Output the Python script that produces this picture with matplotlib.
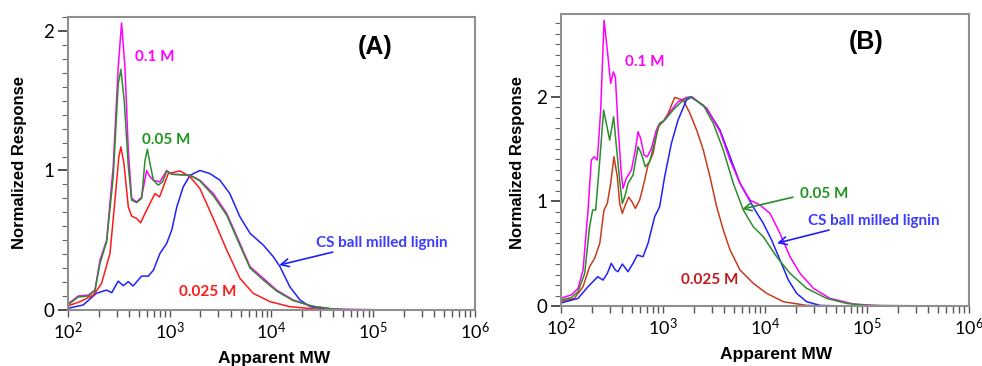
import matplotlib
matplotlib.use("Agg")
import matplotlib.pyplot as plt
from matplotlib.ticker import FixedLocator, MultipleLocator, FuncFormatter, LogLocator, NullFormatter
import numpy as np

plt.rcParams["mathtext.fontset"] = "custom"
plt.rcParams["mathtext.rm"] = "Lato"

# ---------------- panel A data (log10 apparent MW, normalized response) ----------------
a_01_logmw = [2.0, 2.10, 2.20, 2.265, 2.315, 2.38, 2.445, 2.494, 2.527, 2.56, 2.593, 2.626,
              2.675, 2.724, 2.773, 2.806, 2.84, 2.904, 2.97, 3.02, 3.10, 3.20, 3.297, 3.428,
              3.56, 3.69, 3.79, 3.92, 4.05, 4.214, 4.38, 4.607, 5.17]
a_01_resp = [0.043, 0.10, 0.107, 0.143, 0.358, 0.50, 1.03, 1.74, 2.057, 1.74, 1.145, 0.80,
             0.775, 0.81, 1.0, 0.955, 0.93, 0.918, 1.0, 0.973, 0.97, 0.966, 0.93, 0.835,
             0.692, 0.477, 0.31, 0.227, 0.143, 0.072, 0.029, 0.007, 0.0]

a_005_logmw = [2.0, 2.10, 2.20, 2.265, 2.315, 2.38, 2.445, 2.494, 2.52, 2.553, 2.593, 2.626,
               2.675, 2.724, 2.757, 2.78, 2.806, 2.84, 2.887, 2.93, 2.97, 3.02, 3.20, 3.297,
               3.428, 3.56, 3.69, 3.79, 3.92, 4.05, 4.214, 4.42, 4.607, 4.8]
a_005_resp = [0.036, 0.093, 0.10, 0.138, 0.335, 0.49, 0.955, 1.62, 1.725, 1.50, 1.03, 0.787,
              0.77, 0.80, 1.07, 1.152, 1.05, 0.93, 0.895, 0.918, 0.995, 0.973, 0.966, 0.925,
              0.82, 0.68, 0.463, 0.30, 0.215, 0.136, 0.067, 0.025, 0.007, 0.0]

a_0025_logmw = [2.0, 2.118, 2.25, 2.33, 2.413, 2.462, 2.50, 2.52, 2.55, 2.593, 2.626, 2.675,
                2.714, 2.757, 2.806, 2.855, 2.9, 2.937, 2.986, 3.10, 3.2, 3.297, 3.428, 3.56,
                3.69, 3.82, 3.985, 4.18, 4.46, 4.8]
a_0025_resp = [0.029, 0.06, 0.107, 0.19, 0.405, 0.787, 1.097, 1.169, 1.05, 0.74, 0.673, 0.656,
               0.625, 0.692, 0.764, 0.835, 0.81, 0.883, 0.978, 0.997, 0.955, 0.87, 0.656, 0.43,
               0.227, 0.12, 0.06, 0.024, 0.005, 0.0]

a_cs_logmw = [2.0, 2.15, 2.28, 2.38, 2.43, 2.494, 2.543, 2.593, 2.64, 2.69, 2.724, 2.79, 2.84,
              2.904, 2.97, 3.02, 3.07, 3.133, 3.2, 3.297, 3.395, 3.494, 3.59, 3.69, 3.79, 3.92,
              4.018, 4.084, 4.18, 4.28, 4.38, 4.54, 4.8]
a_cs_resp = [0.012, 0.036, 0.12, 0.143, 0.124, 0.207, 0.174, 0.203, 0.172, 0.215, 0.243, 0.243,
             0.286, 0.405, 0.477, 0.573, 0.74, 0.883, 0.966, 1.0, 0.978, 0.93, 0.835, 0.668,
             0.549, 0.465, 0.382, 0.31, 0.167, 0.072, 0.024, 0.005, 0.0]

# ---------------- panel B data ----------------
b_01_logmw = [1.99, 2.10, 2.167, 2.216, 2.265, 2.297, 2.324, 2.356, 2.389, 2.422, 2.454, 2.487,
              2.513, 2.533, 2.559, 2.591, 2.608, 2.64, 2.69, 2.729, 2.755, 2.781, 2.814, 2.846,
              2.886, 2.934, 2.967, 3.016, 3.082, 3.147, 3.229, 3.281, 3.428, 3.559, 3.657,
              3.755, 3.853, 3.951, 4.049, 4.147, 4.245, 4.343, 4.474, 4.637, 4.866, 5.127, 5.65]
b_01_resp = [0.073, 0.105, 0.169, 0.344, 0.917, 1.394, 1.426, 1.394, 1.872, 2.73, 2.445, 2.127,
             2.238, 2.19, 1.713, 1.267, 1.124, 1.22, 1.30, 1.49, 1.665, 1.60, 1.442, 1.426,
             1.506, 1.68, 1.745, 1.776, 1.872, 1.951, 1.993, 1.999, 1.888, 1.665, 1.394,
             1.172, 1.012, 0.965, 0.885, 0.694, 0.471, 0.312, 0.169, 0.073, 0.019, 0.003, 0.0]

b_005_logmw = [1.99, 2.10, 2.167, 2.232, 2.28, 2.31, 2.34, 2.38, 2.418, 2.444, 2.477, 2.516,
               2.54, 2.575, 2.601, 2.624, 2.657, 2.706, 2.755, 2.787, 2.826, 2.869, 2.918, 2.967,
               3.016, 3.098, 3.18, 3.264, 3.395, 3.493, 3.591, 3.689, 3.787, 3.885, 3.983,
               4.114, 4.245, 4.408, 4.604, 4.80, 4.996, 5.75]
b_005_resp = [0.057, 0.08, 0.137, 0.312, 0.758, 0.917, 0.917, 1.394, 1.872, 1.745, 1.585, 1.808,
              1.554, 1.203, 0.981, 1.04, 1.172, 1.251, 1.522, 1.458, 1.331, 1.378, 1.569, 1.745,
              1.776, 1.872, 1.951, 1.999, 1.92, 1.745, 1.49, 1.172, 0.917, 0.757, 0.662,
              0.471, 0.312, 0.169, 0.073, 0.025, 0.006, 0.0]

b_0025_logmw = [1.99, 2.13, 2.216, 2.28, 2.33, 2.38, 2.421, 2.454, 2.487, 2.519, 2.552, 2.575,
                2.601, 2.63, 2.663, 2.696, 2.729, 2.771, 2.82, 2.853, 2.902, 2.951, 3.0, 3.05,
                3.114, 3.199, 3.264, 3.33, 3.395, 3.46, 3.526, 3.591, 3.657, 3.755, 3.885,
                4.016, 4.18, 4.408, 4.637]
b_0025_resp = [0.041, 0.073, 0.185, 0.376, 0.456, 0.599, 0.917, 0.981, 1.172, 1.426, 1.235, 0.981,
               0.885, 0.965, 1.04, 0.996, 0.933, 1.012, 1.203, 1.347, 1.458, 1.713, 1.76, 1.84,
               1.993, 1.967, 1.84, 1.68, 1.49, 1.235, 0.949, 0.726, 0.535, 0.344, 0.217,
               0.121, 0.041, 0.006, 0.0]

b_cs_logmw = [1.99, 2.167, 2.265, 2.36, 2.412, 2.454, 2.493, 2.532, 2.559, 2.601, 2.657, 2.706,
              2.748, 2.804, 2.853, 2.918, 2.967, 3.016, 3.082, 3.147, 3.229, 3.281, 3.428, 3.559,
              3.657, 3.755, 3.837, 3.902, 3.983, 4.065, 4.147, 4.229, 4.31, 4.408, 4.539, 4.75]
b_cs_resp = [0.026, 0.073, 0.185, 0.28, 0.248, 0.312, 0.408, 0.344, 0.328, 0.401, 0.328, 0.408,
             0.487, 0.471, 0.599, 0.853, 0.949, 1.235, 1.554, 1.776, 1.967, 1.999, 1.888, 1.68,
             1.426, 1.172, 1.028, 0.917, 0.79, 0.63, 0.439, 0.248, 0.121, 0.041, 0.006, 0.0]

x_tick_exps = [2, 3, 4, 5, 6]
y_ticks = [0, 1, 2]

MAGENTA = "#ff00ff"
GREEN = "#2a8f2a"
GREEN_TXT = "#1e961e"
RED_A = "#ff1a1a"
RED_B = "#c83c1e"
RED_B_TXT = "#c01a1a"
BLUE = "#2020ff"
BLUE_TXT = "#3c3cff"
FRAME = "#8f8f8f"


def style_axes(ax, ytop):

    ax.set_xscale("log")
    ax.set_xlim(1e2, 1e6)
    ax.set_ylim(0, ytop)

    for sp in ax.spines.values():
        sp.set_color(FRAME)
        sp.set_linewidth(1.5)

    ax.xaxis.set_major_locator(FixedLocator([10.0 ** e for e in x_tick_exps]))
    ax.xaxis.set_minor_locator(LogLocator(base=10, subs=np.arange(2, 10)))
    ax.xaxis.set_minor_formatter(NullFormatter())
    ax.xaxis.set_major_formatter(
        FuncFormatter(lambda v, p: r"$\mathregular{10^{%d}}$" % round(np.log10(v)))
    )

    ax.yaxis.set_major_locator(FixedLocator(y_ticks))
    ax.yaxis.set_minor_locator(MultipleLocator(0.1))

    ax.tick_params(axis="x", which="major", direction="out", length=5, width=1,
                   color="#555555", labelsize=13, pad=3)
    ax.tick_params(axis="x", which="minor", direction="out", length=5, width=1,
                   color="#555555")
    ax.tick_params(axis="y", which="major", direction="out", length=7, width=1.2,
                   color="#333333", labelsize=13.5, pad=3)
    ax.tick_params(axis="y", which="minor", direction="out", length=4, width=0.8,
                   color="#666666")
    for lab in ax.get_xticklabels() + ax.get_yticklabels():
        lab.set_fontfamily("Lato")

    ax.set_xlabel("Apparent MW", fontsize=12.5, fontweight="bold",
                  fontfamily="Liberation Sans")
    ax.set_ylabel("Normalized Response", fontsize=12, fontweight="bold",
                  fontfamily="Liberation Sans")


def curve(ax, logmw, resp, color):
    ax.plot(10.0 ** np.array(logmw), resp, color=color, lw=1.1,
            solid_joinstyle="round")


def label(ax, x, y, s, color):
    ax.text(x, y, s, color=color, fontsize=11, fontweight="bold",
            fontfamily="Lato", ha="center", va="center")


def arrow(ax, tail, tip, color):
    ax.annotate("", xy=tip, xytext=tail,
                arrowprops=dict(arrowstyle="->", color=color, lw=1.2,
                                mutation_scale=14, shrinkA=0, shrinkB=0))


fig = plt.figure(figsize=(9.82, 3.66), dpi=100)

# ---------------- (A) ----------------
axA = fig.add_axes([0.0692, 0.153, 0.4145, 0.8005])
style_axes(axA, 2.1)
curve(axA, a_cs_logmw, a_cs_resp, BLUE)
curve(axA, a_0025_logmw, a_0025_resp, RED_A)
curve(axA, a_01_logmw, a_01_resp, MAGENTA)
curve(axA, a_005_logmw, a_005_resp, GREEN)
axA.xaxis.set_label_coords(0.506, -0.141)
axA.yaxis.set_label_coords(-0.100, 0.505)

label(axA, 717, 1.81, "0.1 M", MAGENTA)
label(axA, 918, 1.217, "0.05 M", GREEN_TXT)
label(axA, 2378, 0.129, "0.025 M", RED_A)
label(axA, 1.22e5, 0.48, "CS ball milled lignin", BLUE_TXT)
arrow(axA, (4.0e4, 0.415), (1.19e4, 0.322), BLUE)
axA.text(0.754, 0.898, "(A)", transform=axA.transAxes, fontsize=18,
         fontweight="bold", fontfamily="Liberation Sans", ha="center", va="center")

# ---------------- (B) ----------------
axB = fig.add_axes([0.5713, 0.1639, 0.4155, 0.7978])
style_axes(axB, 2.79)
curve(axB, b_0025_logmw, b_0025_resp, RED_B)
curve(axB, b_cs_logmw, b_cs_resp, BLUE)
curve(axB, b_01_logmw, b_01_resp, MAGENTA)
curve(axB, b_005_logmw, b_005_resp, GREEN)
axB.xaxis.set_label_coords(0.527, -0.142)
axB.yaxis.set_label_coords(-0.088, 0.493)

label(axB, 666, 2.33, "0.1 M", MAGENTA)
label(axB, 3.78e4, 1.07, "0.05 M", GREEN_TXT)
label(axB, 1.17e5, 0.81, "CS ball milled lignin", BLUE_TXT)
label(axB, 2890, 0.248, "0.025 M", RED_B_TXT)
arrow(axB, (1.88e4, 1.04), (5.96e3, 0.926), GREEN)
arrow(axB, (4.24e4, 0.726), (1.31e4, 0.60), BLUE)
axB.text(0.748, 0.904, "(B)", transform=axB.transAxes, fontsize=18,
         fontweight="bold", fontfamily="Liberation Sans", ha="center", va="center")

fig.savefig("out.png", dpi=100)
